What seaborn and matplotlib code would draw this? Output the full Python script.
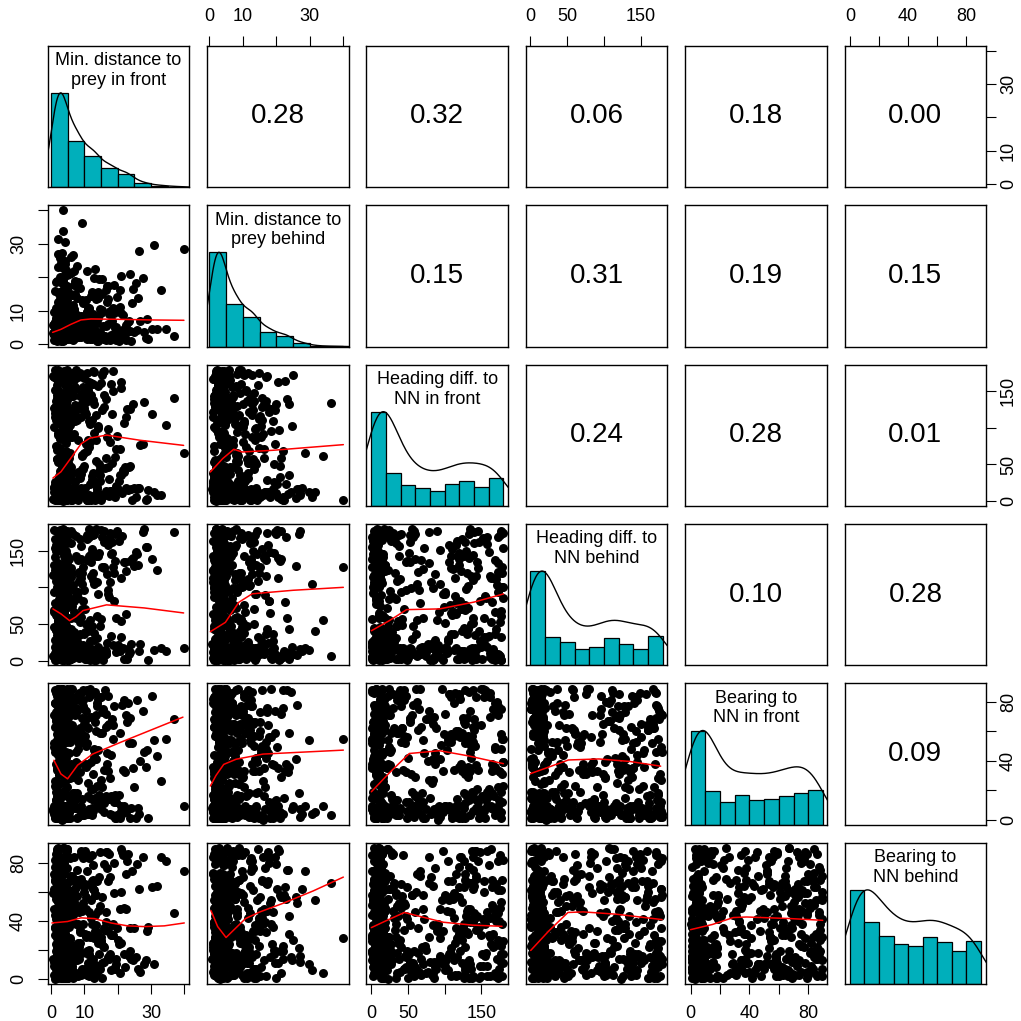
import numpy as np
import pandas as pd
import matplotlib
matplotlib.use("Agg")
import matplotlib.pyplot as plt
import seaborn as sns

# panel titles on the diagonal
labels = [
    "Min. distance to\nprey in front",
    "Min. distance to\nprey behind",
    "Heading diff. to\nNN in front",
    "Heading diff. to\nNN behind",
    "Bearing to\nNN in front",
    "Bearing to\nNN behind",
]

# observations (same row order in every list)
dist_front = [
    2.3, 7.1, 0.9, 12.4, 3.8, 4.6, 17.2, 1.7, 6.3, 3.1, 22.5, 10.8, 2.8, 4.1, 8.9, 15.6, 3.4, 13.1, 1.2, 5.7,
    4.4, 9.2, 2.6, 1.9, 11.7, 26.3, 3.6, 6.8, 0.6, 18.4, 4.9, 2.1, 14.2, 7.7, 3.3, 20.9, 1.5, 10.2, 4.0, 5.2,
    3.0, 1.4, 8.1, 16.5, 2.4, 12.9, 4.7, 6.0, 39.9, 3.7, 2.0, 9.6, 11.3, 4.3, 23.8, 1.8, 7.4, 2.9, 19.1, 3.5,
    5.9, 2.2, 13.8, 3.9, 1.1, 8.4, 4.8, 27.6, 2.7, 10.6, 17.9, 3.2, 6.6, 1.6, 14.7, 4.2, 21.4, 2.5, 9.9, 0.8,
    4.5, 12.0, 1.3, 7.9, 3.4, 15.1, 2.0, 5.4, 29.2, 3.8, 11.0, 4.9, 2.6, 18.8, 6.2, 1.9, 24.1, 3.1, 8.6, 4.1,
    1.7, 6.9, 3.6, 13.4, 2.3, 33.1, 4.6, 9.3, 1.0, 10.5, 16.2, 2.8, 5.1, 3.9, 20.3, 7.2, 2.1, 12.7, 4.4, 3.2,
    2.9, 8.0, 4.0, 11.9, 1.4, 22.9, 3.5, 6.4, 2.4, 17.6, 4.8, 14.0, 1.9, 9.0, 3.0, 25.4, 5.5, 2.6, 10.1, 3.7,
    4.2, 1.5, 7.6, 3.3, 15.8, 2.0, 12.2, 5.8, 36.9, 4.7, 2.7, 8.7, 19.5, 1.2, 3.9, 11.4, 6.1, 2.2, 21.7, 3.4,
    3.1, 10.9, 2.5, 6.7, 4.3, 16.9, 1.6, 13.6, 8.2, 3.6, 28.4, 2.1, 5.0, 4.6, 18.1, 1.8, 9.5, 3.0, 23.3, 2.8,
    1.9, 5.3, 3.8, 12.6, 2.4, 7.3, 4.5, 20.0, 1.3, 14.5, 3.2, 9.8, 0.7, 17.0, 4.9, 6.5, 2.9, 10.4, 31.7, 3.5,
    2.6, 8.5, 4.1, 1.7, 11.6, 3.3, 24.6, 5.6, 2.0, 15.4, 4.4, 7.0, 3.7, 13.0, 1.4, 19.8, 2.7, 6.0, 9.1, 4.0,
    3.9, 1.1, 6.6, 2.3, 10.0, 4.8, 17.4, 3.0, 8.8, 26.8, 2.1, 12.3, 5.2, 1.6, 22.2, 3.6, 14.9, 2.8, 7.8, 4.3,
    2.2, 9.4, 3.4, 16.0, 1.8, 5.9, 4.6, 11.2, 2.5, 18.6, 3.8, 7.5, 1.0, 13.3, 4.9, 21.0, 2.9, 6.3, 30.4, 3.2,
    4.0, 2.0, 12.8, 6.8, 3.5, 1.5, 15.3, 4.7, 9.7, 2.6, 25.0, 5.4, 3.1, 10.7, 1.9, 20.6, 8.3, 4.2, 2.4, 14.1,
    3.7, 7.1, 1.3, 11.5, 4.5, 2.8, 19.3, 6.1, 3.0, 16.7, 2.2, 8.0, 4.8, 13.9, 1.7, 23.6, 3.6, 5.7, 27.9, 2.0,
    2.7, 6.2, 1.8, 13.2, 4.1, 3.3, 16.4, 8.2, 2.1, 10.3, 4.6, 21.8, 3.6, 7.3, 1.5, 12.1, 5.6, 2.4, 18.7, 3.9,
    4.3, 9.0, 2.0, 11.1, 3.1, 6.7, 1.2, 15.0, 4.9, 2.6, 24.4, 7.8, 3.5, 13.7, 1.9, 5.3, 17.3, 4.0, 2.9, 26.1,
    1.6, 5.1, 3.7, 12.5, 2.5, 8.4, 4.4, 19.6, 1.1, 10.9, 3.0, 6.0, 22.0, 2.2, 14.4, 4.8, 9.3, 1.4, 3.2, 16.0,
    3.4, 7.4, 2.3, 14.8, 4.7, 1.0, 11.8, 5.9, 2.8, 20.7, 3.8, 9.6, 1.7, 17.0, 4.2, 6.4, 2.0, 12.9, 31.0, 3.6,
    2.1, 10.0, 4.5, 1.3, 6.9, 3.2, 15.9, 2.6, 8.9, 13.0, 4.0, 23.1, 1.9, 5.5, 3.9, 18.2, 2.4, 7.7, 11.5, 4.7,
    4.9, 1.5, 8.1, 3.0, 12.3, 2.2, 6.5, 16.6, 3.7, 1.0, 10.6, 4.3, 21.1, 2.8, 5.8, 14.2, 3.4, 28.9, 1.8, 9.4,
    3.1, 5.0, 1.4, 11.3, 4.1, 7.0, 2.6, 19.0, 3.5, 13.5, 1.7, 8.6, 4.6, 25.8, 2.3, 6.3, 15.2, 3.8, 10.2, 2.0,
    1.9, 12.7, 4.4, 6.1, 2.9, 9.9, 3.3, 17.8, 1.2, 14.6, 4.8, 7.5, 2.5, 22.6, 3.6, 5.4, 11.0, 2.1, 34.5, 4.0,
]
dist_behind = [
    3.5, 1.8, 9.7, 4.2, 13.5, 2.6, 6.1, 18.9, 3.0, 7.8, 1.2, 22.0, 4.8, 11.1, 2.3, 5.5, 3.9, 15.2, 2.0, 8.3,
    12.1, 4.1, 2.9, 7.0, 1.6, 27.8, 3.3, 10.4, 5.9, 2.1, 16.6, 4.5, 1.0, 8.9, 3.7, 20.5, 2.5, 6.4, 13.0, 4.9,
    2.4, 6.8, 3.8, 1.4, 11.8, 4.6, 17.3, 2.8, 28.5, 40.0, 3.1, 5.2, 1.9, 14.4, 4.0, 7.6, 2.2, 23.7, 3.4, 10.0,
    4.3, 8.6, 1.7, 12.7, 3.2, 5.7, 2.0, 19.7, 4.7, 6.9, 2.7, 15.9, 1.3, 10.8, 3.6, 24.9, 2.4, 7.3, 4.4, 3.0,
    1.9, 5.0, 3.9, 14.0, 2.3, 9.5, 4.1, 21.3, 1.5, 7.2, 3.3, 11.4, 2.8, 17.8, 4.6, 6.0, 0.9, 12.9, 3.5, 30.6,
    3.2, 10.7, 2.1, 6.6, 4.9, 16.1, 1.6, 8.1, 3.8, 13.3, 2.6, 25.9, 4.2, 5.4, 1.1, 19.0, 3.0, 9.0, 2.4, 7.5,
    4.5, 2.9, 12.4, 1.8, 6.3, 3.6, 22.8, 5.1, 2.2, 10.1, 4.0, 15.5, 3.1, 8.4, 1.4, 18.2, 2.7, 11.7, 6.7, 3.9,
    2.0, 7.9, 4.7, 13.8, 1.7, 5.8, 3.4, 9.9, 2.5, 20.8, 4.3, 16.9, 1.2, 6.2, 3.7, 11.0, 9.2, 2.9, 8.7, 4.8,
    3.6, 1.5, 6.0, 11.9, 2.6, 17.5, 4.4, 8.0, 3.0, 14.7, 1.9, 23.2, 5.3, 2.3, 9.4, 4.1, 12.5, 3.3, 7.1, 2.1,
    4.9, 9.1, 2.8, 5.6, 1.3, 15.0, 3.8, 10.6, 2.0, 19.4, 4.2, 7.4, 3.5, 13.6, 1.6, 26.7, 2.4, 6.5, 4.6, 33.9,
    1.8, 4.0, 12.2, 2.7, 7.7, 3.9, 16.4, 5.0, 2.2, 10.3, 4.7, 21.9, 1.0, 8.5, 3.2, 14.1, 2.5, 6.1, 3.6, 18.0,
    3.1, 6.8, 2.0, 11.3, 4.5, 9.6, 1.5, 24.3, 3.7, 7.0, 2.9, 15.7, 4.3, 5.5, 1.9, 12.0, 2.6, 20.1, 3.4, 8.2,
    2.3, 13.2, 4.8, 1.7, 8.8, 3.0, 17.1, 5.9, 2.1, 10.9, 4.1, 6.6, 1.4, 22.4, 3.8, 9.3, 2.7, 14.8, 4.6, 27.2,
    4.0, 2.5, 7.6, 3.3, 11.5, 1.8, 19.6, 5.2, 2.9, 13.7, 3.6, 6.9, 1.1, 9.8, 4.4, 16.3, 2.2, 23.9, 3.9, 8.0,
    1.6, 5.7, 3.2, 10.5, 2.4, 15.6, 4.9, 7.8, 2.0, 12.6, 3.5, 18.5, 4.2, 6.4, 1.3, 21.1, 2.8, 9.0, 3.7, 31.5,
    4.6, 2.2, 8.0, 3.4, 12.8, 1.7, 5.6, 17.0, 3.9, 2.5, 10.2, 4.1, 20.0, 6.9, 1.3, 14.3, 3.0, 7.5, 2.8, 24.6,
    2.9, 6.3, 1.5, 10.9, 4.4, 3.2, 15.8, 2.0, 8.2, 4.9, 12.3, 3.6, 19.2, 1.1, 5.8, 2.6, 9.1, 22.7, 3.8, 13.9,
    3.7, 1.9, 7.2, 4.3, 11.6, 2.4, 16.8, 5.3, 3.1, 9.8, 1.4, 26.2, 4.7, 6.5, 2.2, 13.4, 3.5, 18.7, 8.6, 2.0,
    1.6, 4.8, 9.4, 3.0, 14.6, 2.7, 6.1, 21.4, 4.0, 11.2, 1.2, 7.9, 3.3, 17.4, 2.1, 5.1, 12.7, 4.5, 29.8, 3.9,
    4.2, 8.4, 2.3, 5.9, 3.6, 13.1, 1.8, 10.4, 4.9, 19.9, 2.6, 6.7, 1.0, 15.3, 3.4, 7.1, 2.9, 23.4, 4.4, 11.9,
    2.5, 5.4, 3.8, 12.0, 1.5, 8.9, 4.6, 16.2, 2.0, 6.2, 3.2, 20.6, 4.1, 10.0, 1.7, 14.0, 2.8, 7.6, 3.5, 36.2,
    3.3, 11.4, 2.1, 6.0, 4.8, 17.7, 1.3, 9.5, 3.7, 13.6, 2.4, 5.2, 22.1, 4.3, 8.3, 1.9, 15.0, 3.0, 7.0, 27.0,
    1.8, 4.5, 7.8, 2.7, 12.9, 3.9, 18.3, 1.4, 6.4, 10.7, 4.0, 2.2, 14.9, 5.7, 3.1, 21.0, 2.6, 9.0, 4.7, 16.5,
]
heading_front = [
    5, 131, 12, 28, 3, 168, 47, 17, 88, 9, 115, 1, 72, 137, 14, 176, 33, 8, 152, 104,
    11, 62, 2, 145, 24, 18, 108, 6, 171, 52, 13, 127, 38, 4, 95, 163, 16, 122, 57, 7,
    19, 3, 84, 139, 10, 176, 29, 15, 66, 1, 112, 44, 8, 158, 125, 13, 179, 36, 6, 101,
    4, 54, 16, 133, 22, 9, 167, 78, 2, 119, 14, 91, 143, 6, 35, 172, 11, 128, 48, 18,
    7, 161, 26, 12, 106, 1, 137, 59, 15, 84, 3, 175, 41, 10, 149, 70, 17, 124, 31, 5,
    13, 92, 0.5, 118, 34, 8, 170, 63, 19, 136, 45, 4, 155, 11, 27, 109, 16, 178, 129, 2,
    9, 40, 17, 144, 5, 126, 23, 12, 166, 81, 1, 103, 58, 14, 134, 6, 173, 69, 18, 37,
    3, 115, 15, 50, 8, 163, 29, 11, 140, 97, 6, 130, 21, 16, 177, 74, 2, 152, 43, 10,
    18, 68, 4, 121, 32, 13, 174, 55, 7, 112, 1, 139, 86, 14, 160, 25, 9, 131, 46, 15,
    6, 147, 12, 38, 2, 116, 79, 17, 169, 51, 10, 127, 3, 98, 22, 16, 176, 135, 8, 62,
    14, 35, 1, 158, 105, 9, 133, 66, 19, 172, 42, 5, 122, 27, 12, 89, 4, 165, 114, 11,
    2, 120, 16, 57, 8, 179, 30, 13, 143, 77, 6, 110, 18, 137, 47, 3, 161, 24, 10, 94,
    15, 44, 7, 128, 21, 11, 170, 83, 4, 150, 62, 17, 101, 1, 138, 36, 13, 174, 119, 9,
    10, 93, 3, 165, 39, 14, 124, 6, 148, 53, 18, 113, 25, 2, 178, 71, 12, 132, 8, 157,
    5, 26, 16, 109, 1, 141, 60, 11, 175, 87, 7, 126, 33, 19, 166, 48, 4, 117, 135, 13,
    8, 143, 21, 3, 117, 56, 14, 169, 90, 6, 132, 40, 11, 156, 75, 2, 124, 17, 178, 102,
    12, 37, 5, 151, 64, 16, 128, 9, 173, 85, 1, 110, 26, 13, 141, 49, 7, 164, 120, 18,
    4, 99, 15, 160, 31, 10, 136, 71, 2, 175, 54, 17, 106, 22, 8, 147, 130, 14, 61, 177,
    16, 126, 6, 44, 12, 169, 80, 3, 114, 35, 19, 155, 58, 9, 138, 1, 172, 93, 13, 123,
    7, 65, 11, 179, 28, 4, 145, 107, 18, 133, 42, 15, 166, 87, 2, 119, 24, 10, 158, 52,
    14, 111, 1, 140, 34, 9, 171, 59, 17, 127, 78, 5, 154, 23, 12, 100, 46, 3, 176, 134,
    10, 52, 19, 162, 8, 121, 30, 13, 148, 84, 2, 175, 68, 16, 129, 39, 6, 109, 142, 11,
    3, 138, 17, 47, 9, 168, 96, 14, 115, 27, 5, 153, 73, 18, 126, 33, 1, 179, 104, 12,
]
heading_behind = [
    132, 8, 46, 15, 171, 3, 96, 27, 12, 118, 64, 6, 153, 17, 139, 1, 84, 10, 165, 30,
    19, 105, 2, 177, 56, 13, 126, 38, 7, 162, 90, 4, 142, 22, 16, 113, 9, 71, 168, 11,
    5, 149, 25, 14, 102, 1, 174, 43, 18, 127, 66, 8, 179, 33, 12, 110, 85, 3, 136, 52,
    160, 16, 61, 6, 123, 35, 10, 175, 92, 2, 145, 21, 15, 108, 48, 9, 170, 76, 13, 131,
    4, 116, 28, 17, 157, 57, 11, 138, 1, 99, 40, 7, 172, 81, 19, 125, 23, 14, 166, 104,
    12, 67, 3, 143, 31, 18, 111, 9, 178, 50, 15, 129, 88, 5, 163, 37, 10, 120, 150, 1,
    17, 94, 8, 134, 42, 2, 169, 74, 14, 107, 26, 11, 176, 60, 6, 148, 121, 19, 39, 13,
    9, 158, 20, 4, 128, 53, 16, 101, 175, 1, 83, 36, 12, 141, 68, 7, 114, 167, 18, 29,
    3, 137, 45, 13, 119, 24, 8, 179, 86, 15, 155, 58, 2, 106, 34, 17, 127, 72, 10, 164,
    14, 41, 6, 171, 100, 18, 133, 21, 1, 146, 63, 11, 117, 91, 5, 173, 32, 16, 124, 55,
    7, 109, 19, 159, 27, 3, 140, 79, 12, 168, 49, 9, 122, 38, 15, 177, 97, 2, 112, 65,
    16, 130, 4, 47, 13, 174, 87, 8, 115, 23, 17, 152, 59, 1, 135, 103, 11, 178, 33, 6,
    10, 70, 15, 161, 2, 126, 44, 18, 103, 22, 7, 170, 93, 13, 144, 54, 5, 119, 138, 16,
    1, 151, 29, 12, 111, 62, 9, 176, 82, 17, 129, 36, 4, 165, 100, 14, 121, 44, 8, 19,
    11, 95, 6, 142, 25, 18, 173, 58, 3, 118, 77, 13, 160, 31, 16, 136, 107, 2, 179, 40,
    118, 5, 72, 14, 163, 30, 9, 137, 55, 17, 102, 2, 174, 86, 12, 145, 41, 7, 128, 19,
    15, 156, 44, 3, 121, 23, 11, 178, 94, 6, 139, 63, 18, 107, 35, 1, 167, 80, 13, 131,
    9, 73, 16, 148, 26, 4, 115, 58, 19, 171, 99, 8, 135, 47, 14, 161, 120, 2, 36, 176,
    6, 142, 33, 12, 109, 67, 1, 177, 88, 17, 124, 21, 10, 158, 51, 5, 133, 104, 15, 166,
    18, 96, 3, 153, 39, 13, 126, 76, 8, 172, 57, 16, 113, 29, 4, 147, 84, 11, 169, 135,
    2, 125, 20, 160, 48, 14, 103, 9, 179, 69, 17, 140, 32, 6, 116, 91, 12, 155, 61, 7,
    13, 171, 42, 5, 134, 82, 16, 119, 27, 1, 163, 53, 10, 145, 98, 18, 128, 65, 3, 176,
    8, 110, 24, 15, 150, 37, 4, 174, 79, 11, 131, 59, 19, 122, 45, 2, 168, 101, 14, 143,
]
bearing_front = [
    3, 57, 71, 14, 8, 36, 84, 1, 62, 25, 5, 88, 45, 17, 9, 75, 32, 66, 2, 53,
    79, 6, 41, 12, 89, 4, 58, 33, 7, 68, 22, 1, 82, 15, 51, 9, 73, 38, 3, 64,
    5, 86, 27, 63, 2, 48, 76, 11, 9, 55, 34, 81, 4, 19, 69, 7, 39, 59, 1, 72,
    61, 8, 23, 87, 3, 52, 16, 74, 6, 36, 44, 0, 83, 67, 13, 9, 78, 31, 56, 4,
    2, 70, 46, 18, 85, 7, 57, 29, 1, 65, 38, 5, 77, 12, 89, 54, 8, 33, 62, 4,
    84, 9, 35, 60, 3, 26, 73, 14, 6, 50, 88, 41, 1, 67, 17, 8, 79, 31, 56, 5,
    7, 53, 81, 21, 2, 66, 38, 11, 75, 4, 87, 47, 9, 59, 33, 1, 71, 18, 64, 6,
    58, 3, 76, 42, 15, 8, 85, 28, 68, 5, 37, 53, 1, 79, 19, 7, 62, 89, 34, 4,
    9, 63, 24, 82, 6, 45, 13, 71, 2, 57, 36, 88, 7, 67, 16, 4, 77, 31, 52, 1,
    72, 5, 39, 86, 8, 60, 27, 3, 79, 12, 51, 65, 6, 33, 84, 18, 1, 74, 43, 9,
    2, 81, 54, 16, 7, 68, 35, 89, 4, 22, 62, 76, 9, 47, 13, 3, 58, 38, 86, 6,
    66, 1, 29, 78, 5, 55, 14, 87, 8, 40, 70, 3, 61, 19, 32, 7, 83, 49, 74, 2,
    4, 57, 89, 11, 6, 37, 73, 25, 1, 64, 80, 46, 9, 15, 53, 3, 69, 33, 84, 7,
    75, 8, 43, 18, 88, 2, 59, 31, 5, 66, 22, 79, 6, 52, 12, 1, 85, 36, 63, 9,
    3, 71, 26, 83, 7, 50, 17, 61, 4, 38, 89, 56, 8, 77, 34, 1, 67, 14, 46, 5,
    6, 64, 35, 87, 2, 19, 72, 48, 8, 57, 29, 81, 4, 13, 68, 39, 1, 76, 55, 7,
    82, 3, 44, 16, 61, 9, 88, 27, 5, 70, 52, 1, 37, 79, 14, 6, 65, 33, 85, 8,
    2, 58, 74, 21, 7, 86, 42, 12, 63, 4, 31, 78, 9, 54, 17, 1, 69, 38, 89, 5,
    67, 8, 30, 83, 3, 49, 15, 72, 6, 59, 36, 88, 2, 64, 18, 9, 77, 41, 54, 4,
    1, 75, 57, 23, 9, 66, 34, 85, 5, 13, 62, 79, 7, 45, 19, 3, 71, 32, 87, 6,
    89, 4, 38, 61, 8, 24, 80, 16, 2, 52, 68, 35, 6, 74, 11, 9, 84, 47, 58, 3,
    5, 69, 22, 86, 1, 56, 14, 77, 7, 41, 63, 32, 4, 81, 17, 8, 73, 53, 37, 2,
    78, 6, 46, 12, 65, 3, 89, 28, 9, 59, 35, 83, 1, 71, 18, 5, 62, 39, 55, 7,
]
bearing_behind = [
    12, 48, 3, 85, 27, 64, 15, 36, 7, 55, 72, 19, 41, 1, 88, 23, 59, 33, 9, 67,
    45, 6, 18, 81, 29, 62, 2, 53, 14, 37, 76, 8, 25, 68, 11, 89, 44, 31, 5, 57,
    21, 86, 4, 39, 16, 61, 47, 9, 74, 28, 13, 52, 83, 2, 35, 65, 17, 43, 7, 58,
    60, 10, 32, 77, 0, 46, 23, 84, 15, 56, 6, 38, 69, 19, 50, 27, 87, 3, 63, 12,
    8, 42, 71, 17, 54, 26, 88, 4, 36, 64, 11, 49, 22, 80, 2, 58, 14, 33, 66, 6,
    73, 13, 51, 3, 29, 84, 40, 18, 62, 7, 34, 56, 16, 90, 24, 46, 1, 68, 11, 37,
    26, 65, 5, 43, 12, 81, 55, 9, 31, 70, 18, 47, 2, 86, 39, 15, 61, 22, 7, 52,
    15, 57, 38, 1, 79, 24, 63, 10, 45, 88, 4, 32, 14, 67, 53, 20, 8, 41, 85, 28,
    49, 3, 69, 19, 34, 87, 7, 58, 25, 42, 13, 75, 1, 60, 30, 11, 83, 47, 16, 5,
    9, 36, 82, 14, 54, 2, 66, 27, 44, 17, 78, 6, 59, 33, 89, 21, 12, 48, 64, 4,
    64, 18, 29, 88, 6, 50, 13, 71, 39, 1, 57, 23, 84, 10, 45, 35, 16, 68, 3, 52,
    2, 77, 44, 11, 60, 26, 86, 15, 34, 5, 53, 67, 19, 41, 8, 81, 29, 62, 13, 48,
    37, 7, 56, 22, 89, 14, 65, 3, 46, 30, 72, 18, 9, 58, 84, 25, 1, 40, 63, 12,
    80, 16, 4, 51, 27, 69, 11, 43, 87, 6, 35, 59, 20, 74, 2, 48, 14, 31, 66, 9,
    5, 62, 30, 17, 85, 42, 8, 55, 24, 76, 13, 38, 1, 67, 49, 19, 90, 28, 10, 54,
    23, 71, 6, 44, 15, 58, 87, 2, 33, 65, 11, 49, 79, 18, 4, 54, 27, 61, 38, 13,
    9, 50, 84, 17, 35, 1, 68, 26, 45, 12, 74, 57, 20, 5, 88, 41, 14, 63, 31, 7,
    59, 14, 3, 78, 42, 22, 66, 10, 36, 85, 6, 52, 17, 29, 70, 1, 47, 24, 60, 12,
    16, 63, 32, 7, 89, 48, 12, 56, 25, 4, 73, 38, 19, 67, 2, 44, 81, 28, 10, 53,
    41, 5, 27, 82, 13, 61, 35, 18, 69, 1, 50, 86, 22, 8, 57, 30, 15, 75, 46, 11,
    7, 55, 19, 64, 38, 90, 3, 46, 14, 72, 29, 11, 60, 24, 83, 6, 51, 33, 17, 66,
    70, 12, 47, 2, 31, 84, 18, 59, 9, 37, 65, 25, 14, 79, 43, 5, 56, 21, 88, 16,
    28, 62, 10, 43, 76, 4, 54, 17, 35, 87, 13, 67, 23, 48, 1, 58, 30, 11, 81, 39,
]

# histogram bar heights on the diagonal, and bin widths
hist_dist_front = [283, 140, 95, 57, 39, 12, 5, 2]
hist_dist_behind = [282, 127, 90, 45, 32, 10, 2, 1]
hist_heading_front = [282, 100, 64, 54, 45, 65, 75, 56, 84]
hist_heading_behind = [280, 85, 70, 48, 55, 81, 63, 50, 86]
hist_bearing_front = [281, 100, 67, 89, 74, 78, 87, 96, 103]
hist_bearing_behind = [282, 186, 145, 121, 113, 141, 125, 98, 130]
bin_widths = [5, 5, 20, 20, 10, 10]

# correlations printed in the upper panels, row by row
corr_row1 = ["0.28", "0.32", "0.06", "0.18", "0.00"]
corr_row2 = ["0.15", "0.31", "0.19", "0.15"]
corr_row3 = ["0.24", "0.28", "0.01"]
corr_row4 = ["0.10", "0.28"]
corr_row5 = ["0.09"]

# loess smooths in the lower panels, (x, y)
fit_r2_c1 = [(0.5, 3.6), (3, 4.5), (6, 6.0), (9, 7.3), (12, 7.6), (20, 7.5), (30, 7.3), (39.9, 7.2)]
fit_r3_c1 = [(0.6, 31.5), (3, 40), (6.6, 62.5), (9, 78), (11.7, 86), (16.7, 90), (26.7, 83), (39.8, 76)]
fit_r3_c2 = [(0.3, 39.7), (4, 58), (7.3, 70.7), (9.8, 67), (18.9, 69.3), (40, 77)]
fit_r4_c1 = [(0.6, 70.7), (3, 64), (5.6, 54.7), (7.5, 60), (9.6, 68.4), (16.7, 76.2), (28, 72), (39.8, 65.2)]
fit_r4_c2 = [(0.3, 39.7), (4.8, 52.4), (8.8, 79.7), (12.8, 91.2), (25, 96), (40, 100)]
fit_r4_c3 = [(0, 41), (25, 55), (48, 69.7), (93, 70.7), (140, 80), (180, 91)]
fit_r5_c1 = [(0.9, 40.3), (3, 31), (5, 27.7), (8, 37), (12.5, 44.5), (21, 52.6), (39.6, 69.6)]
fit_r5_c2 = [(0.3, 22.8), (2, 30), (4.3, 37.5), (8, 41), (16, 44.5), (40, 47.2)]
fit_r5_c3 = [(0, 18.9), (25, 32), (51.7, 44.9), (93, 46.8), (132, 43.3), (179.9, 38)]
fit_r5_c4 = [(0, 31.2), (51.7, 40.5), (93, 41.2), (135, 39.5), (177, 36.3)]
fit_r6_c1 = [(0.3, 38.5), (5, 39.5), (9, 42), (13, 41.5), (18, 38.5), (23, 36.5), (28, 36), (34, 36.5), (40, 38.5)]
fit_r6_c2 = [(0.5, 47), (2.5, 36), (5, 28.5), (7, 33), (10.8, 41.5), (15, 46), (22, 52), (31, 60.5), (40, 70)]
fit_r6_c3 = [(0, 35.3), (20, 40), (45, 45.7), (70, 42.5), (98, 39), (138, 37), (178, 36.2)]
fit_r6_c4 = [(0.4, 19.6), (25, 33), (51, 45.7), (72, 46.1), (117, 44.5), (179, 40.8)]
fit_r6_c5 = [(0, 33.9), (15, 37.5), (29, 42.2), (38, 42.6), (68, 41.5), (89.8, 40.3)]

# axis ticks (R drops labels that would overlap)
ticks_dist, ticklabels_dist = [0, 10, 20, 30, 40], ["0", "10", "", "30", ""]
ticks_head, ticklabels_head = [0, 50, 100, 150], ["0", "50", "", "150"]
ticks_bear, ticklabels_bear = [0, 20, 40, 60, 80], ["0", "", "40", "", "80"]

cols = ["dist_front", "dist_behind", "heading_front", "heading_behind", "bearing_front", "bearing_behind"]
data = pd.DataFrame({
    "dist_front": dist_front,
    "dist_behind": dist_behind,
    "heading_front": heading_front,
    "heading_behind": heading_behind,
    "bearing_front": bearing_front,
    "bearing_behind": bearing_behind,
})
hists = [hist_dist_front, hist_dist_behind, hist_heading_front,
         hist_heading_behind, hist_bearing_front, hist_bearing_behind]
corr_rows = [corr_row1, corr_row2, corr_row3, corr_row4, corr_row5]
fits = {(1, 0): fit_r2_c1, (2, 0): fit_r3_c1, (2, 1): fit_r3_c2,
        (3, 0): fit_r4_c1, (3, 1): fit_r4_c2, (3, 2): fit_r4_c3,
        (4, 0): fit_r5_c1, (4, 1): fit_r5_c2, (4, 2): fit_r5_c3, (4, 3): fit_r5_c4,
        (5, 0): fit_r6_c1, (5, 1): fit_r6_c2, (5, 2): fit_r6_c3, (5, 3): fit_r6_c4, (5, 4): fit_r6_c5}
ticks = [(ticks_dist, ticklabels_dist)] * 2 + [(ticks_head, ticklabels_head)] * 2 + [(ticks_bear, ticklabels_bear)] * 2
kde_bw = [2.5, 2.5, 20, 20, 10, 10]

# R style limits: data range plus 4 % each side
lims = []
for c in cols:
    lo, hi = data[c].min(), data[c].max()
    pad = 0.04 * (hi - lo)
    lims.append((lo - pad, hi + pad))

sns.set_style("white")
plt.rcParams["font.family"] = ["Liberation Sans", "DejaVu Sans"]
plt.rcParams["text.color"] = "black"

TEAL = "#00AFBB"

fig, axes = plt.subplots(6, 6, figsize=(10.21, 10.21), dpi=100)
fig.subplots_adjust(left=0.0467, right=0.9659, bottom=0.0360, top=0.9552,
                    wspace=0.1265, hspace=0.1265)

for i in range(6):
    for j in range(6):
        ax = axes[i, j]
        if i == j:
            w = bin_widths[i]
            n = len(hists[i])
            hdf = pd.DataFrame({"mid": (np.arange(n) + 0.5) * w, "h": hists[i]})
            sns.histplot(data=hdf, x="mid", weights="h", binwidth=w, binrange=(0, n * w),
                         ax=ax, color=TEAL, edgecolor="black", linewidth=0.9, alpha=1)
            sd = np.sqrt(np.cov(hdf["mid"], aweights=hdf["h"]))
            sns.kdeplot(data=hdf, x="mid", weights="h", bw_method=kde_bw[i] / sd, ax=ax,
                        color="black", linewidth=1.0)
            hmax = hdf["h"].max()
            line = ax.lines[-1]
            yd = np.asarray(line.get_ydata())
            line.set_ydata(yd / yd.max() * hmax)
            ax.set_ylim(0, 1.5 * hmax)
            ax.text(0.5, 0.955, labels[i], transform=ax.transAxes, ha="center", va="top",
                    fontsize=13, linespacing=1.2, color="black")
        elif i > j:
            sns.scatterplot(x=data[cols[j]], y=data[cols[i]], ax=ax, color="black",
                            s=42, linewidth=0, legend=False)
            pts = np.array(fits[(i, j)])
            sns.lineplot(x=pts[:, 0], y=pts[:, 1], ax=ax, color="red", linewidth=1.1,
                         sort=False, estimator=None)
            ax.set_ylim(lims[i])
        else:
            ax.text(0.5, 0.5, corr_rows[i][j - i - 1], transform=ax.transAxes,
                    ha="center", va="center", fontsize=20, color="black")
            ax.set_ylim(lims[i])
        ax.set_xlim(lims[j])
        ax.set_xlabel("")
        ax.set_ylabel("")
        for sp in ax.spines.values():
            sp.set_visible(True)
            sp.set_color("black")
            sp.set_linewidth(1.0)
        ax.tick_params(which="both", bottom=False, top=False, left=False, right=False,
                       labelbottom=False, labeltop=False, labelleft=False, labelright=False)

# alternating axes like R's pairs()
for k in range(6):
    tk, tl = ticks[k]
    bottom = k % 2 == 0
    ax = axes[5, k] if bottom else axes[0, k]
    ax.set_xticks(tk)
    ax.set_xticklabels(tl)
    ax.tick_params(axis="x", bottom=bottom, labelbottom=bottom, top=not bottom,
                   labeltop=not bottom, length=7, width=0.8, pad=8, labelsize=13,
                   color="black", labelcolor="black", direction="out")

    left = k % 2 == 1
    ax = axes[k, 0] if left else axes[k, 5]
    ax.set_yticks(tk)
    ax.set_yticklabels(tl)
    ax.tick_params(axis="y", left=left, labelleft=left, right=not left,
                   labelright=not left, length=7, width=0.8, pad=8 if left else 3,
                   labelsize=13, color="black", labelcolor="black", direction="out",
                   labelrotation=90)
    for lab in ax.get_yticklabels():
        lab.set_va("center")

fig.savefig("out.png", dpi=100, facecolor="white")
